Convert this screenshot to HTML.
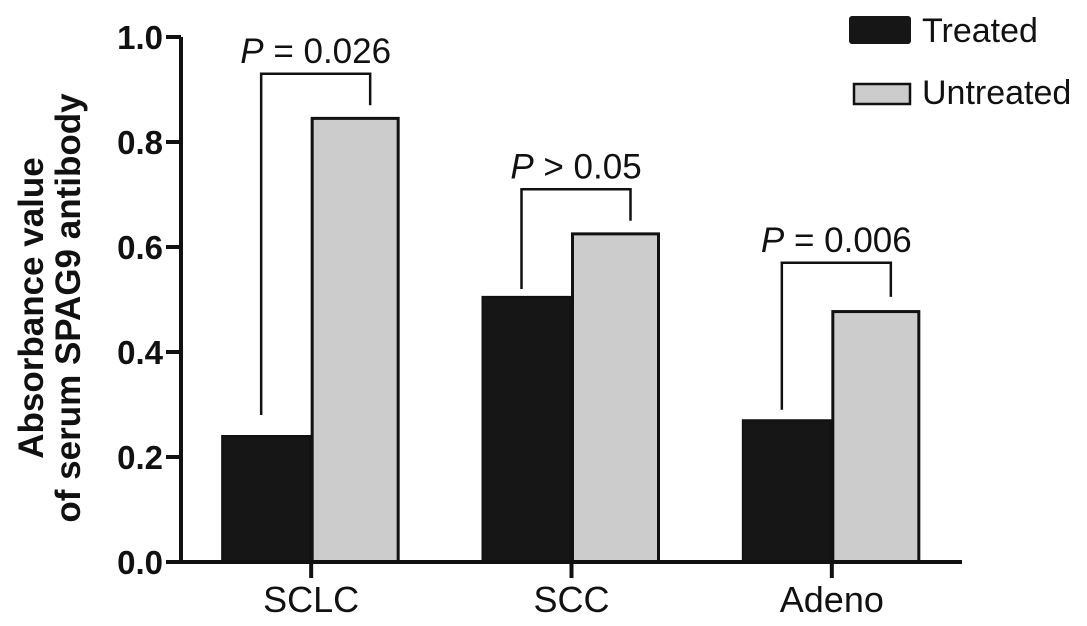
<!DOCTYPE html>
<html><head><meta charset="utf-8"><style>
html,body{margin:0;padding:0;background:#fff;}
svg{display:block;font-family:"Liberation Sans",Arial,sans-serif;}
</style></head><body>
<svg id="chart" width="1087" height="626" viewBox="0 0 1087 626"></svg>
<script>
const categories = ["SCLC", "SCC", "Adeno"];
const treated = [0.24, 0.505, 0.27];
const untreated = [0.845, 0.625, 0.477];
const pLabels = ["= 0.026", "> 0.05", "= 0.006"];
const bracketTop = [0.93, 0.71, 0.57];
const bracketLeftBottom = [0.28, 0.52, 0.29];
const bracketRightBottom = [0.87, 0.65, 0.505];
const yTicks = [0, 0.2, 0.4, 0.6, 0.8, 1.0];
const yTickLabels = ["0.0", "0.2", "0.4", "0.6", "0.8", "1.0"];

const NS = "http://www.w3.org/2000/svg";
const svg = document.getElementById("chart");
const x0 = 181, x1 = 962, y0 = 562, yTopPx = 37;
const band = (x1 - x0) / categories.length;
const barW = 88;
function yScale(v){ return y0 - v * (y0 - yTopPx); }
function xCenter(i){ return x0 + band * (i + 0.5); }
function mk(tag, attrs, parent){
  const e = document.createElementNS(NS, tag);
  for (const k in attrs) e.setAttribute(k, attrs[k]);
  (parent || svg).appendChild(e);
  return e;
}

categories.forEach((c, i) => {
  const cx = xCenter(i);
  const t = mk("rect", {x: cx - barW - 1, y: yScale(treated[i]), width: barW, height: y0 - yScale(treated[i]), fill: "#161616", stroke: "#111", "stroke-width": 2});
  
  
  const u = mk("rect", {x: cx + 1, y: yScale(untreated[i]), width: barW - 2, height: y0 - yScale(untreated[i]), fill: "#cccccc", stroke: "#111", "stroke-width": 3});
  
  
});

const ax = mk("path", {d: `M${x0} ${yTopPx} V${y0} H${x1}`, fill: "none", stroke: "#111", "stroke-width": 4});



yTicks.forEach((v, i) => {
  const y = yScale(v);
  const tk = mk("line", {x1: x0 - 15, x2: x0, y1: y, y2: y, stroke: "#111", "stroke-width": 4});
  
  
  const tl = mk("text", {x: x0 - 18, y: y + 12, "text-anchor": "end", "font-size": 33, "font-weight": "bold", fill: "#111"});
  tl.textContent = yTickLabels[i];
  
  
});

categories.forEach((c, i) => {
  const cx = xCenter(i);
  const tk = mk("line", {x1: cx, x2: cx, y1: y0, y2: y0 + 16, stroke: "#111", "stroke-width": 4});
  
  
  const tl = mk("text", {x: cx, y: y0 + 50, "text-anchor": "middle", "font-size": 36, fill: "#111"});
  tl.textContent = c;
  
  
});

categories.forEach((c, i) => {
  const cx = xCenter(i);
  const lx = cx - 50, rx = cx + 59;
  const yt = yScale(bracketTop[i]);
  const b = mk("path", {d: `M${lx} ${yScale(bracketLeftBottom[i])} V${yt} H${rx} V${yScale(bracketRightBottom[i])}`, fill: "none", stroke: "#111", "stroke-width": 2.5});
  
  
  const t = mk("text", {x: (lx + rx) / 2, y: yt - 11, "text-anchor": "middle", "font-size": 35, fill: "#111"});
  
  
  const ti = mk("tspan", {"font-style": "italic"}, t);
  ti.textContent = "P";
  const tr = mk("tspan", {}, t);
  tr.textContent = " " + pLabels[i];
});
</script>
<svg style="position:absolute;left:0;top:0" width="1087" height="626">
  <g font-family="Liberation Sans, Arial, sans-serif" font-weight="bold" font-size="35" fill="#111" text-anchor="middle">
    <text transform="translate(43,308) rotate(-90)">Absorbance value</text>
    <text transform="translate(80,308) rotate(-90)">of serum SPAG9 antibody</text>
  </g>
  <g font-family="Liberation Sans, Arial, sans-serif" font-size="34" fill="#111">
    <g>
      <rect x="849" y="16" width="62" height="28" rx="3" fill="#161616"/>
      <text x="922" y="42">Treated</text>
    </g>
    <g>
      <rect x="854" y="84" width="56" height="20" fill="#cccccc" stroke="#111" stroke-width="2.5"/>
      <text x="922" y="104">Untreated</text>
    </g>
  </g>
</svg>
</body></html>
